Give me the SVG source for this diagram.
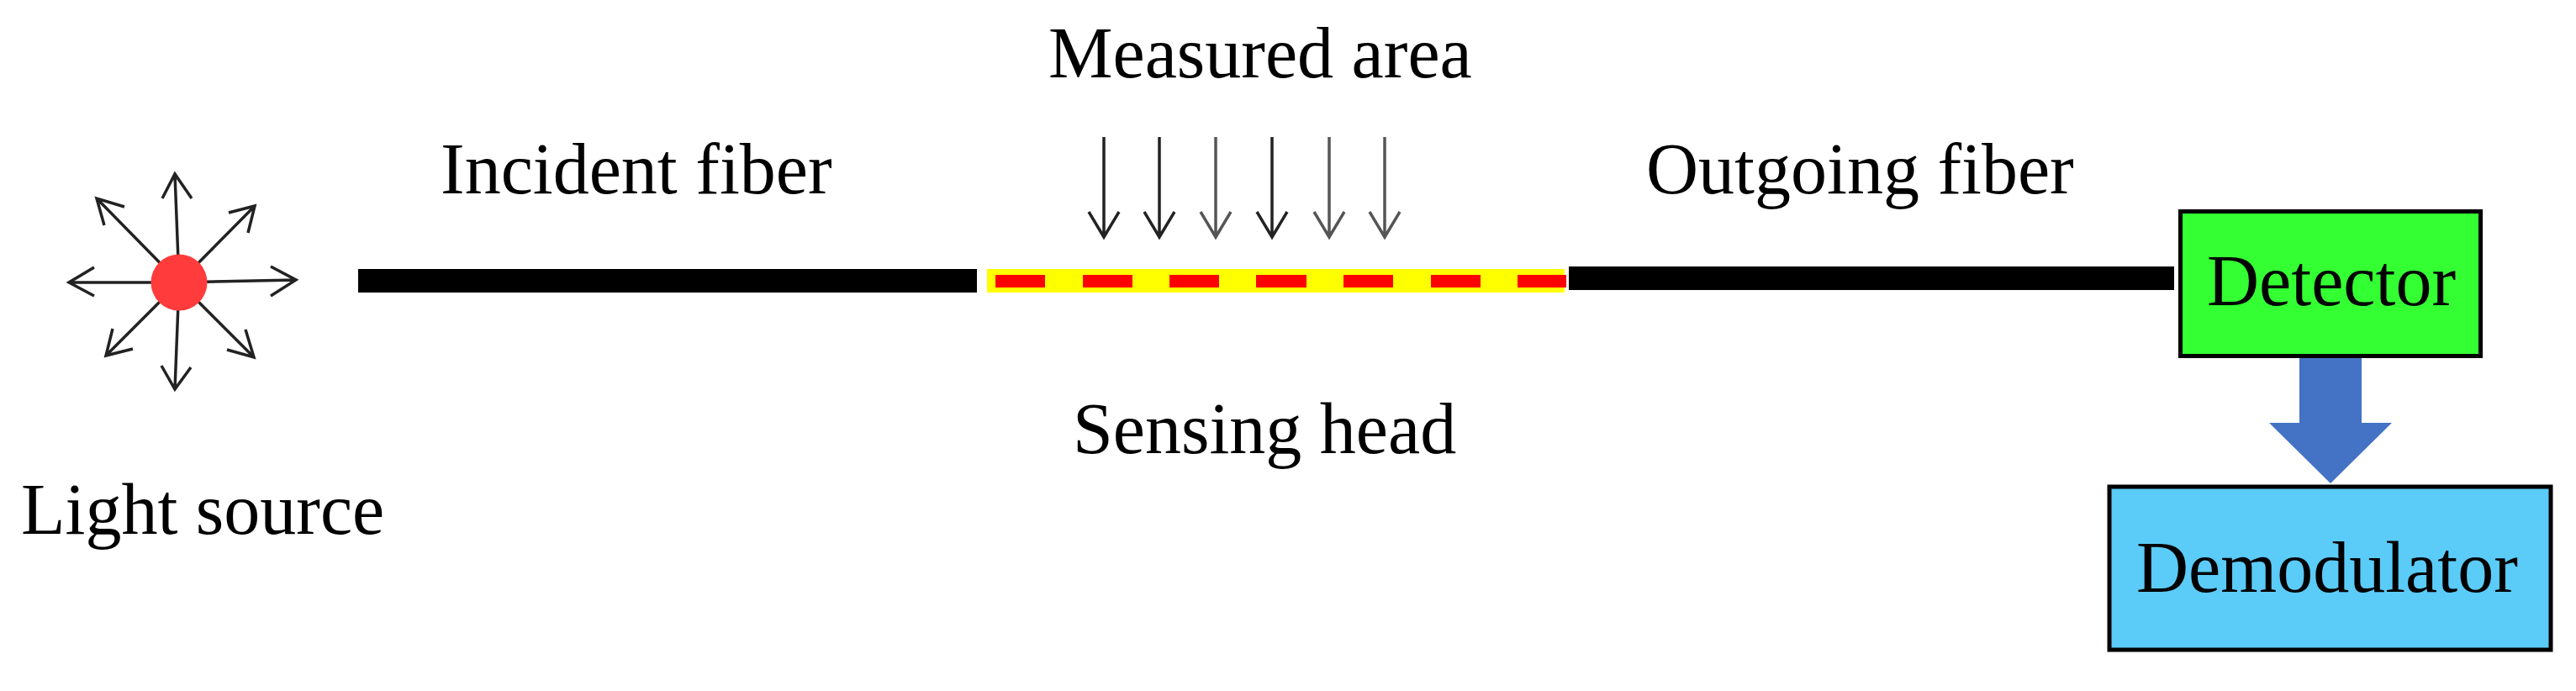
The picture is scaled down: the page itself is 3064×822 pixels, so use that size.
<svg xmlns="http://www.w3.org/2000/svg" width="3064" height="822" viewBox="0 0 3064 822">
<style>
text{font-family:"Liberation Serif","Times New Roman",serif;font-size:86px;fill:#000}
.a{fill:none;stroke:#222;stroke-width:3.5}
.g{fill:none;stroke:#555;stroke-width:3.5}
.box{stroke:#000;stroke-width:5}
.f{fill:#000}
</style>
<rect width="3064" height="822" fill="#fff"/>
<g id="connectors">
<g id="rays">
<path class="a" d="M213 336L82 336M112 318L82 336L112 352"/>
<path class="a" d="M213 336L352 333M322 317L352 333L322 352"/>
<path class="a" d="M213 336L208 207M193 236L208 207L228 236"/>
<path class="a" d="M213 336L208 463M192 435L208 463L227 437"/>
<path class="a" d="M213 336L115 236M148 246L115 236L124 268"/>
<path class="a" d="M213 336L303 245M272 253L303 245L295 277"/>
<path class="a" d="M213 336L126 423M158 415L126 423L134 391"/>
<path class="a" d="M213 336L302 425M270 416L302 425L292 392"/>
</g>
<g id="measured-arrows">
<path class="a" d="M1313 163V282M1295 252L1313 282L1331 252"/>
<path class="a" d="M1379 163V282M1361 252L1379 282L1397 252"/>
<path class="g" d="M1446 163V282M1428 252L1446 282L1464 252"/>
<path class="a" d="M1513 163V282M1495 252L1513 282L1531 252"/>
<path class="g" d="M1581 163V282M1563 252L1581 282L1599 252"/>
<path class="g" d="M1647 163V282M1629 252L1647 282L1665 252"/>
</g>
<polygon id="detector-to-demodulator" fill="#4472C4" points="2735,426 2809,426 2809,503 2845,503 2772,575 2699,503 2735,503"/>
</g>
<g id="light-source">
<circle cx="213" cy="336" r="33.5" fill="#FF3B3B"/>
<text x="25" y="635">Light source</text>
</g>
<g id="incident-fiber">
<rect class="f" x="426" y="320" width="736" height="28"/>
<text x="524" y="230">Incident fiber</text>
</g>
<g id="sensing-head">
<rect x="1174" y="320" width="687" height="28" fill="#FFFF00"/>
<g fill="#FF0000">
<rect x="1184" y="327" width="59" height="15"/>
<rect x="1288" y="327" width="59" height="15"/>
<rect x="1391" y="327" width="59" height="15"/>
<rect x="1494" y="327" width="60" height="15"/>
<rect x="1598" y="327" width="59" height="15"/>
<rect x="1702" y="327" width="59" height="15"/>
<rect x="1805" y="327" width="58" height="15"/>
</g>
<text x="1276" y="539">Sensing head</text>
</g>
<g id="measured-area">
<text x="1247" y="92">Measured area</text>
</g>
<g id="outgoing-fiber">
<rect class="f" x="1866" y="317" width="720" height="28"/>
<text x="1958" y="230">Outgoing fiber</text>
</g>
<g id="detector">
<rect class="box" x="2593.5" y="251.5" width="357" height="172" fill="#33FF33"/>
<text x="2625" y="363">Detector</text>
</g>
<g id="demodulator">
<rect class="box" x="2509" y="579" width="525" height="194" fill="#5BCBF8"/>
<text x="2541" y="704">Demodulator</text>
</g>
</svg>
